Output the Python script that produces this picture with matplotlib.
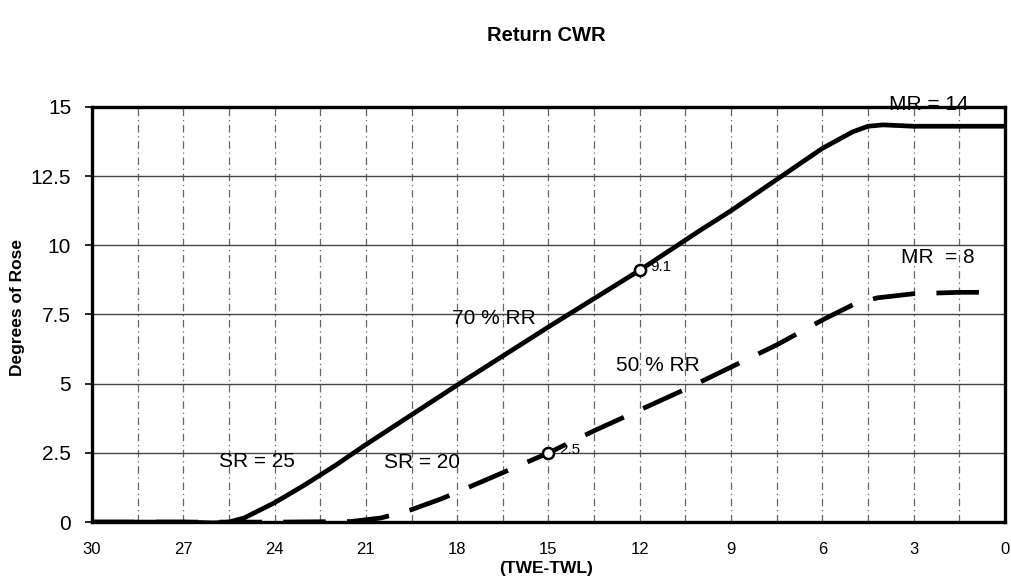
import matplotlib
matplotlib.use("Agg")
import matplotlib.pyplot as plt
from matplotlib.ticker import MultipleLocator
import numpy as np

# Data
x70 = [30, 27, 26, 25.5, 25, 24, 23, 22, 21, 18, 15, 12, 10, 9, 8, 7, 6, 5, 4.5, 4, 3, 1.5, 0]
y70 = [0, 0, -0.03, 0.0, 0.15, 0.7, 1.35, 2.05, 2.8, 4.95, 7.05, 9.1, 10.55, 11.25, 12.0, 12.75, 13.5, 14.1, 14.3, 14.35, 14.3, 14.3, 14.3]

x50 = [30, 27, 24, 21.5, 20.5, 19.5, 18.5, 17, 15, 13.5, 12, 10.5, 9, 7.5, 6, 5, 4.2, 3, 1.5, 0.5]
y50 = [0, 0, 0, 0.02, 0.15, 0.45, 0.85, 1.55, 2.5, 3.3, 4.05, 4.8, 5.6, 6.4, 7.3, 7.85, 8.1, 8.25, 8.3, 8.3]

mark_x = [12, 15]
mark_y = [9.1, 2.5]
mark_labels = ["9.1", "2.5"]

x_ticks = [30, 27, 24, 21, 18, 15, 12, 9, 6, 3, 0]
y_ticks = [0, 2.5, 5, 7.5, 10, 12.5, 15]
y_ticklabels = ["0", "2.5", "5", "7.5", "10", "12.5", "15"]

plt.rcParams['font.family'] = ['Liberation Sans', 'DejaVu Sans']

fig = plt.figure(figsize=(10.11, 5.84), dpi=100)
ax = fig.add_axes([0.091, 0.106, 0.903, 0.711])

ax.plot(x70, y70, color='black', lw=3.4, solid_capstyle='round', zorder=3)
ax.plot(x50, y50, color='black', lw=3.4, dashes=(9, 4.5), zorder=3)
ax.plot(mark_x, mark_y, 'o', ms=8, mfc='white', mec='black', mew=1.8, zorder=4)
for mx, my, lab in zip(mark_x, mark_y, mark_labels):
    ax.text(mx - 0.35, my + 0.1, lab, fontsize=11, ha='left', va='center', zorder=5)

ax.set_xlim(30, 0)
ax.set_ylim(0, 15)
ax.set_xticks(x_ticks)
ax.set_xticklabels([str(t) for t in x_ticks], fontsize=12)
ax.set_yticks(y_ticks)
ax.set_yticklabels(y_ticklabels, fontsize=15)
ax.xaxis.set_minor_locator(MultipleLocator(1.5))
ax.tick_params(axis='x', which='both', length=0, pad=14)
ax.tick_params(axis='y', length=5, width=1.2, pad=10)

ax.grid(axis='y', which='major', color='#444444', lw=1.0, ls='-')
ax.grid(axis='x', which='both', color='#666666', lw=0.9, ls=(0, (6, 3, 1, 3)))
ax.set_axisbelow(True)

for s in ax.spines.values():
    s.set_linewidth(2.4)
    s.set_color('black')

ax.text(24.58, 2.2, "SR = 25", fontsize=15, ha='center', va='center')
ax.text(19.15, 2.15, "SR = 20", fontsize=15, ha='center', va='center')
ax.text(16.8, 7.35, "70 % RR", fontsize=15, ha='center', va='center')
ax.text(11.4, 5.65, "50 % RR", fontsize=15, ha='center', va='center')
ax.text(2.2, 9.55, "MR  = 8", fontsize=15, ha='center', va='center')
ax.text(2.5, 15.1, "MR = 14", fontsize=15, ha='center', va='center', clip_on=False)

fig.text(18 / 1011, 1 - 307 / 584, "Degrees of Rose", fontsize=12.5, fontweight='bold',
         rotation=90, ha='center', va='center')
fig.text(0.54, 1 - 569 / 584, "(TWE-TWL)", fontsize=12.5, fontweight='bold', ha='center', va='center')
fig.text(0.54, 0.94, "Return CWR", fontsize=14.5, fontweight='bold', ha='center', va='center')

fig.savefig("out.png", dpi=100)
